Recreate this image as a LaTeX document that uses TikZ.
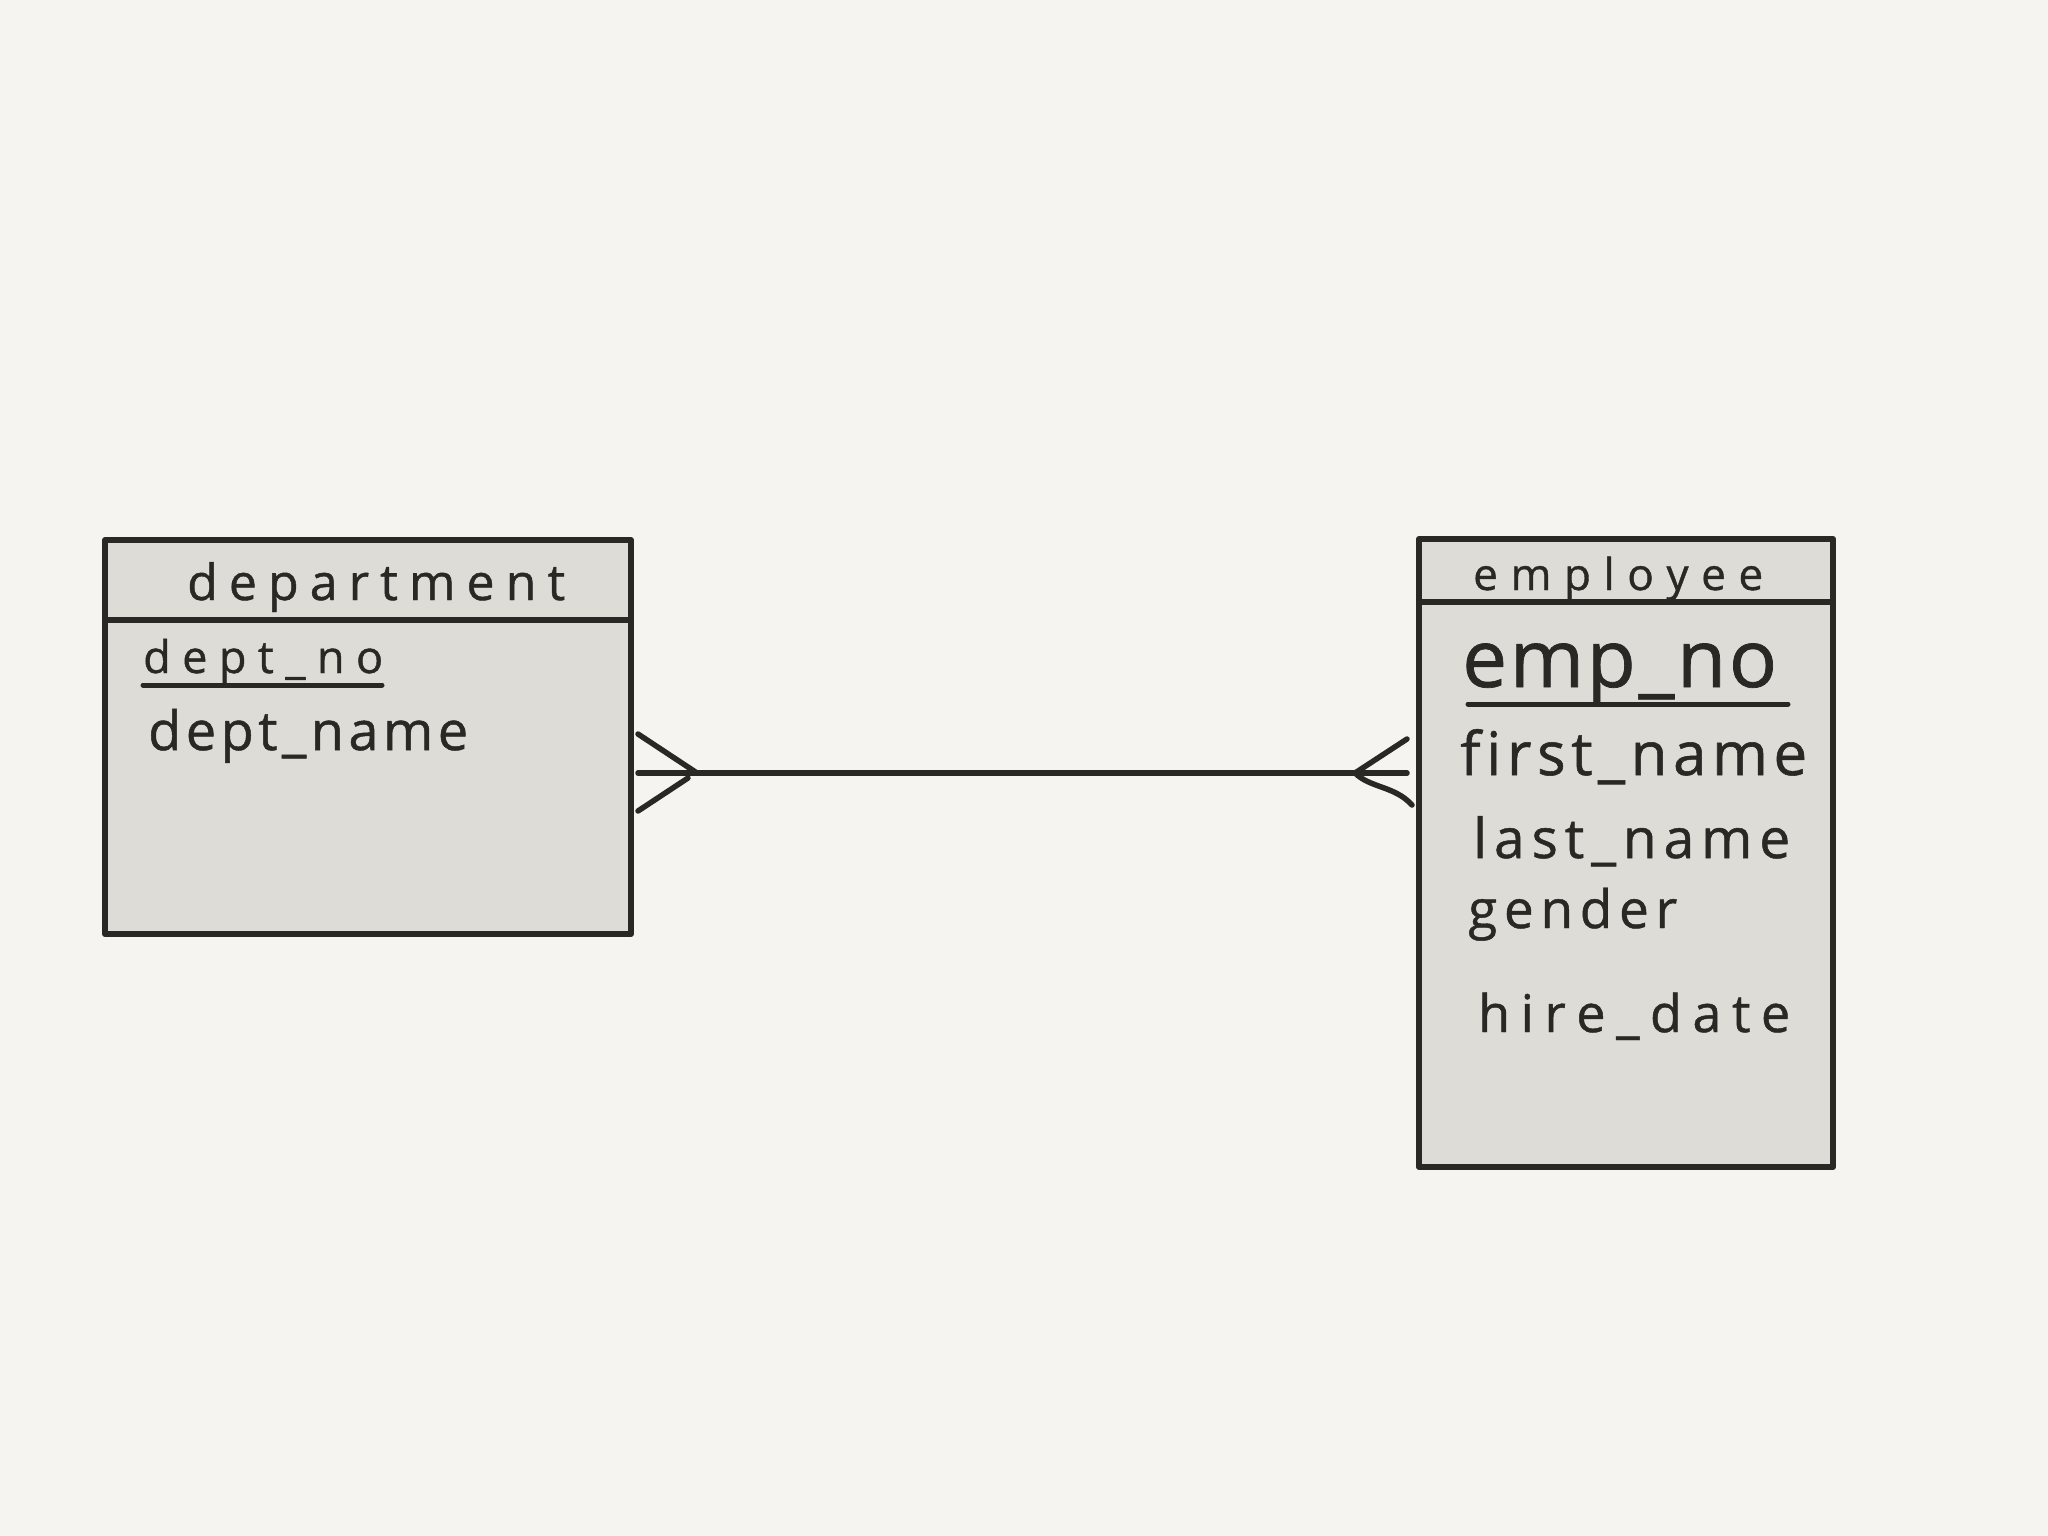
\documentclass[tikz,border=0pt]{standalone}
\usepackage{fontspec}
\setmainfont{Open Sans}
\newfontfamily\hand{Open Sans}[FakeBold=0.9]
\definecolor{bgc}{HTML}{F5F4F0}
\definecolor{boxc}{HTML}{DDDCD7}
\definecolor{ink}{HTML}{2A2825}
\newcommand\fsz[1]{\fontsize{#1pt}{#1pt}\selectfont}
\makeatletter
\newcommand\spreadto[2]{\hbox to #1{\spr@first#2\relax}}
\def\spr@first#1{#1\spr@rest}
\def\spr@rest#1{\ifx#1\relax\else\hfill#1\expandafter\spr@rest\fi}
\makeatother
\tikzset{
  entity/.style={draw=ink, fill=boxc, line width=6pt, line join=round, rectangle, inner sep=0pt},
  divider/.style={draw=ink, line width=6pt},
  label/.style={anchor=base west, inner sep=0pt, text=ink, font=\hand},
  uline/.style={draw=ink, line width=5pt, line cap=round},
  conn/.style={draw=ink, line width=5.5pt, line cap=round, line join=round}
}
\begin{document}
\begin{tikzpicture}[x=1pt, y=-1pt]
\fill[bgc] (0,0) rectangle (2048,1536);
\useasboundingbox (0,0) rectangle (2048,1536);
% department entity
\node[entity, minimum width=526pt, minimum height=394pt] (dept) at (368,737) {};
\draw[divider] (dept.west |- 0,620) -- (dept.east |- 0,620);
\node[label] (dhead) at (187,600) {\fsz{50}\spreadto{378pt}{department}};
\node[label] (dno) at (143,673) {\fsz{45}\spreadto{240pt}{dept\_no}};
\coordinate (dnoA) at (143,685);
\coordinate (dnoB) at (382,685);
\draw[uline] (dnoA) -- (dnoB);
\node[label] (dname) at (148,750) {\fsz{54}\spreadto{320pt}{dept\_name}};
% employee entity
\node[entity, minimum width=414pt, minimum height=628pt] (emp) at (1626,853) {};
\draw[divider] (emp.west |- 0,602) -- (emp.east |- 0,602);
\node[label] (ehead) at (1473,590) {\fsz{44}\spreadto{290pt}{employee}};
\node[label] (eno) at (1462,687) {\fsz{80}\spreadto{315pt}{emp\_no}};
\coordinate (enoA) at (1468,704);
\coordinate (enoB) at (1788,704);
\draw[uline] (enoA) -- (enoB);
\node[label] (fname) at (1460,775) {\fsz{60}\spreadto{347pt}{first\_name}};
\node[label] (lname) at (1473,858) {\fsz{55}\spreadto{317pt}{last\_name}};
\node[label] (gender) at (1468,928) {\fsz{53}\spreadto{209pt}{gender}};
\node[label] (hdate) at (1478,1032) {\fsz{52}\spreadto{312pt}{hire\_date}};
% relationship connector with crow's feet at both ends
\coordinate (cL) at (638,773);
\coordinate (cR) at (1407,773);
\coordinate (apexL) at (697,773);
\coordinate (apexR) at (1355,773);
\draw[conn] (cL) -- (cR);
\draw[conn] (638,734) -- (apexL);
\draw[conn] (638,811) -- (688,778);
\draw[conn] (apexR) -- (1407,739);
\draw[conn] (apexR) .. controls (1370,788) and (1395,786) .. (1412,805);
\end{tikzpicture}
\end{document}
